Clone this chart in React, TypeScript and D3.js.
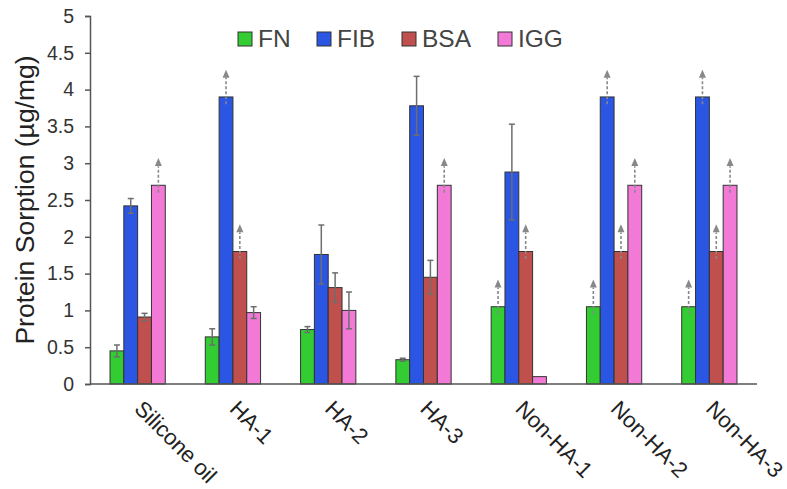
import React, { useEffect, useRef } from 'react'
import * as d3 from 'd3'

const categories = ['Silicone oil', 'HA-1', 'HA-2', 'HA-3', 'Non-HA-1', 'Non-HA-2', 'Non-HA-3']
const seriesNames = ['FN', 'FIB', 'BSA', 'IGG']
const colors = ['#33cc33', '#2b55e3', '#c0504d', '#f27ad6']

const fnValues = [0.45, 0.64, 0.74, 0.33, 1.05, 1.05, 1.05]
const fibValues = [2.42, 3.9, 1.76, 3.78, 2.88, 3.9, 3.9]
const bsaValues = [0.91, 1.8, 1.31, 1.45, 1.8, 1.8, 1.8]
const iggValues = [2.7, 0.97, 1.0, 2.7, 0.1, 2.7, 2.7]

// error bar half-widths (0 = none)
const fnErr = [0.08, 0.11, 0.04, 0.02, 0, 0, 0]
const fibErr = [0.1, 0, 0.4, 0.4, 0.65, 0, 0]
const bsaErr = [0.05, 0, 0.2, 0.23, 0, 0, 0]
const iggErr = [0, 0.08, 0.25, 0, 0, 0, 0]

// dashed "greater than" arrows
const fnArrow = [false, false, false, false, true, true, true]
const fibArrow = [false, true, false, false, false, true, true]
const bsaArrow = [false, true, false, false, true, true, true]
const iggArrow = [true, false, false, true, false, true, true]

const yTicks = [0, 0.5, 1, 1.5, 2, 2.5, 3, 3.5, 4, 4.5, 5]

const W = 787
const H = 489
const margin = { top: 16, right: 30, bottom: 105, left: 90 }
const font = '"Liberation Sans", Arial, sans-serif'

export default function App() {
  const svgRef = useRef<SVGSVGElement>(null)

  useEffect(() => {
    const svg = d3.select(svgRef.current)
    svg.selectAll('*').remove()

    const values = [fnValues, fibValues, bsaValues, iggValues]
    const errs = [fnErr, fibErr, bsaErr, iggErr]
    const arrows = [fnArrow, fibArrow, bsaArrow, iggArrow]

    const x0 = d3.scaleBand().domain(categories).range([margin.left, W - margin.right]).padding(0)
    const groupW = x0.bandwidth() * 0.58
    const x1 = d3.scaleBand().domain(seriesNames).range([0, groupW]).padding(0)
    const y = d3.scaleLinear().domain([0, 5]).range([H - margin.bottom, margin.top])

    // y axis
    const yAxis = svg.append('g')
      .attr('transform', `translate(${margin.left},0)`)
      .call(d3.axisLeft(y).tickValues(yTicks).tickSize(5).tickPadding(11).tickFormat(d3.format('')))
    yAxis.select('.domain').attr('stroke', '#555').attr('stroke-width', 1.5)
    yAxis.selectAll('.tick line').attr('stroke', '#555').attr('stroke-width', 1.5)
    yAxis.selectAll('.tick text').attr('font-size', 19.5).attr('font-family', font).attr('fill', '#333')

    const data = categories.map((c, i) => ({ c, i }))

    const groups = svg.append('g').selectAll('g.grp').data(data).join('g')
      .attr('transform', d => `translate(${x0(d.c)! + (x0.bandwidth() - groupW) / 2},0)`)

    seriesNames.forEach((s, si) => {
      groups.append('rect')
        .attr('x', x1(s)!)
        .attr('y', d => y(values[si][d.i]))
        .attr('width', x1.bandwidth())
        .attr('height', d => y(0) - y(values[si][d.i]))
        .attr('fill', colors[si])
        .attr('stroke', '#333')
        .attr('stroke-width', 1)
    })

    // error bars
    seriesNames.forEach((s, si) => {
      const cx = x1(s)! + x1.bandwidth() / 2
      const g = groups.filter(d => errs[si][d.i] > 0).append('g')
        .attr('stroke', '#6e6e6e').attr('stroke-width', 1.5)
      g.append('line').attr('x1', cx).attr('x2', cx)
        .attr('y1', d => y(values[si][d.i] - errs[si][d.i]))
        .attr('y2', d => y(values[si][d.i] + errs[si][d.i]))
      g.append('line').attr('x1', cx - 3).attr('x2', cx + 3)
        .attr('y1', d => y(values[si][d.i] + errs[si][d.i]))
        .attr('y2', d => y(values[si][d.i] + errs[si][d.i]))
      g.append('line').attr('x1', cx - 3).attr('x2', cx + 3)
        .attr('y1', d => y(values[si][d.i] - errs[si][d.i]))
        .attr('y2', d => y(values[si][d.i] - errs[si][d.i]))
    })

    // dashed arrows
    seriesNames.forEach((s, si) => {
      const cx = x1(s)! + x1.bandwidth() / 2
      const g = groups.filter(d => arrows[si][d.i]).append('g')
      g.append('line').attr('x1', cx).attr('x2', cx)
        .attr('y1', d => y(values[si][d.i] - 0.1))
        .attr('y2', d => y(values[si][d.i] + 0.26))
        .attr('stroke', '#888').attr('stroke-width', 1.6).attr('stroke-dasharray', '3,2')
      g.append('path')
        .attr('d', d => {
          const tip = y(values[si][d.i] + 0.37)
          return `M${cx},${tip}L${cx - 3.5},${tip + 8}L${cx + 3.5},${tip + 8}Z`
        })
        .attr('fill', '#888')
    })

    // x axis
    svg.append('line')
      .attr('x1', margin.left).attr('x2', W - margin.right)
      .attr('y1', y(0)).attr('y2', y(0))
      .attr('stroke', '#555').attr('stroke-width', 1.5)

    svg.append('g').selectAll('text').data(categories).join('text')
      .attr('transform', d => `translate(${x0(d)! + x0.bandwidth() / 2 - 4.5},${y(0) + 26}) rotate(45)`)
      .attr('font-size', 22)
      .attr('font-family', font)
      .attr('fill', '#222')
      .text(d => d)

    // y title
    svg.append('text')
      .attr('transform', `translate(${34},${(y(0) + y(5)) / 2}) rotate(-90)`)
      .attr('text-anchor', 'middle')
      .attr('font-size', 26.5)
      .attr('font-family', font)
      .attr('fill', '#222')
      .text('Protein Sorption (µg/mg)')

    // legend
    const legendX = [238, 317, 402, 498]
    const leg = svg.append('g').selectAll('g').data(seriesNames).join('g')
      .attr('transform', (d, i) => `translate(${legendX[i]},32)`)
    leg.append('rect').attr('width', 14).attr('height', 14)
      .attr('fill', (d, i) => colors[i]).attr('stroke', '#333').attr('stroke-width', 1)
    leg.append('text').attr('x', 20).attr('y', 14.5)
      .attr('font-size', 24.5).attr('font-family', font).attr('fill', '#444')
      .text(d => d)
  }, [])

  return (
    <svg ref={svgRef} width={W} height={H}
      style={{ position: 'absolute', left: 0, top: 0, background: '#fff' }} />
  )
}
